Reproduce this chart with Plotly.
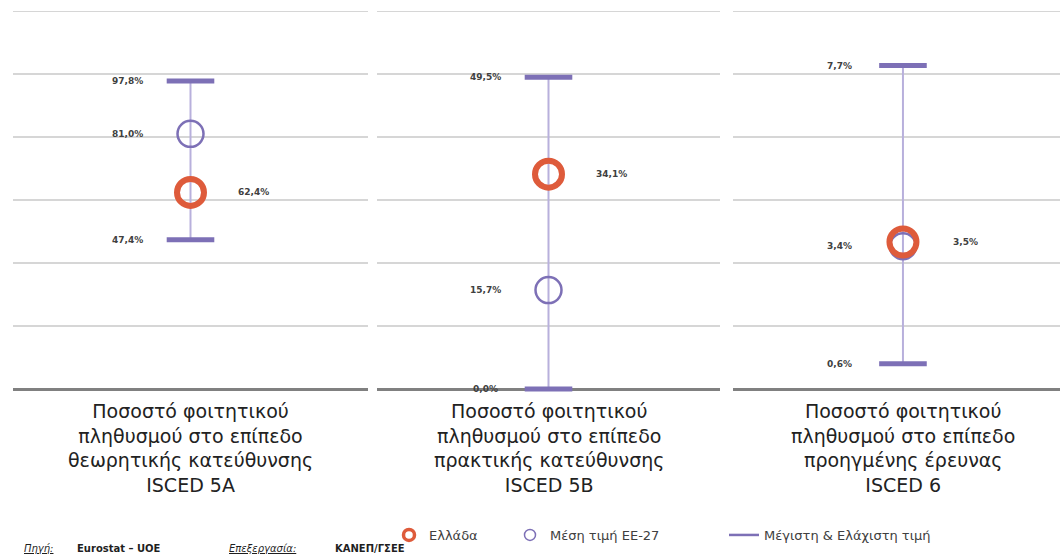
import plotly.graph_objects as go
from plotly.subplots import make_subplots

# Data (percent of student population)
categories = [
    "Ποσοστό φοιτητικού<br>πληθυσμού στο επίπεδο<br>θεωρητικής κατεύθυνσης<br>ISCED 5A",
    "Ποσοστό φοιτητικού<br>πληθυσμού στο επίπεδο<br>πρακτικής κατεύθυνσης<br>ISCED 5B",
    "Ποσοστό φοιτητικού<br>πληθυσμού στο επίπεδο<br>προηγμένης έρευνας<br>ISCED 6",
]
greece = [62.4, 34.1, 3.5]
eu27_mean = [81.0, 15.7, 3.4]
eu_max = [97.8, 49.5, 7.7]
eu_min = [47.4, 0.0, 0.6]
y_max = [120, 60, 9]
y_step = [20, 10, 1.5]

RED = "#de5b3b"
PURPLE = "#7d70b6"
LIGHT_PURPLE = "#b8b0dc"
LABEL = "#404040"
GRID = "#d6d6d6"


def pct(v):
    return f"{v:.1f}".replace(".", ",") + "%"


fig = make_subplots(rows=1, cols=3)

# panel geometry in pixels (width 1060)
domains = [(13, 368), (377, 720), (733, 1060)]
x_ranges = [[-1, 1], [-1, 1], [-1, 0.924]]

for i in range(3):
    col = i + 1
    # min-max whisker
    fig.add_trace(go.Scatter(x=[0, 0], y=[eu_min[i], eu_max[i]], mode="lines",
                             line=dict(color=LIGHT_PURPLE, width=2),
                             showlegend=False, hoverinfo="skip", cliponaxis=False),
                  row=1, col=col)
    # caps
    fig.add_trace(go.Scatter(x=[0, 0], y=[eu_min[i], eu_max[i]], mode="markers",
                             marker=dict(symbol="line-ew", size=34, color=PURPLE,
                                         line=dict(color=PURPLE, width=5)),
                             showlegend=False, cliponaxis=False),
                  row=1, col=col)
    # EU-27 mean
    fig.add_trace(go.Scatter(x=[0], y=[eu27_mean[i]], mode="markers",
                             marker=dict(symbol="circle-open", size=26, color=PURPLE,
                                         line=dict(color=PURPLE, width=2.5)),
                             showlegend=False, cliponaxis=False),
                  row=1, col=col)
    # Greece
    fig.add_trace(go.Scatter(x=[0], y=[greece[i]], mode="markers",
                             marker=dict(symbol="circle-open", size=27, color=RED,
                                         line=dict(color=RED, width=6)),
                             showlegend=False, cliponaxis=False),
                  row=1, col=col)

    xa = "xaxis" if i == 0 else f"xaxis{col}"
    ya = "yaxis" if i == 0 else f"yaxis{col}"
    fig.layout[xa].update(domain=[domains[i][0] / 1060, domains[i][1] / 1060],
                          range=x_ranges[i], visible=False)
    fig.layout[ya].update(range=[0, y_max[i]], dtick=y_step[i], tick0=0,
                          showticklabels=False, showgrid=True,
                          gridcolor=GRID, gridwidth=2,
                          zeroline=True, zerolinecolor="#808080", zerolinewidth=3)

    xref = "x" if i == 0 else f"x{col}"
    yref = "y" if i == 0 else f"y{col}"
    # top gridline (plotly skips the one on the plot edge)
    fig.add_shape(type="line", xref=f"{xref} domain", yref=yref,
                  x0=0, x1=1, y0=y_max[i], y1=y_max[i],
                  line=dict(color=GRID, width=2), layer="below")
    # data labels
    for v, shift in [(eu_max[i], -63), (eu27_mean[i], -63),
                     (eu_min[i], -63), (greece[i], 63)]:
        fig.add_annotation(x=0, y=v, xref=xref, yref=yref, xshift=shift,
                           text=f"<b>{pct(v)}</b>", showarrow=False,
                           font=dict(size=9, color=LABEL, family="DejaVu Sans"))
    # category label
    fig.add_annotation(x=0, y=0, xref=xref, yref="paper", yshift=-9,
                       yanchor="top", text=categories[i], showarrow=False,
                       font=dict(size=19, color="#222222", family="DejaVu Sans"))

# legend entries
fig.add_trace(go.Scatter(x=[None], y=[None], mode="markers", name="Ελλάδα",
                         marker=dict(symbol="circle-open", size=11, color=RED,
                                     line=dict(color=RED, width=3.5)),
                         legend="legend"))
fig.add_trace(go.Scatter(x=[None], y=[None], mode="markers", name="Μέση τιμή ΕΕ-27",
                         marker=dict(symbol="circle-open", size=11, color=PURPLE,
                                     line=dict(color=PURPLE, width=1.5)),
                         legend="legend2"))
fig.add_trace(go.Scatter(x=[None], y=[None], mode="lines",
                         line=dict(color=PURPLE, width=2.5),
                         name="Μέγιστη & Ελάχιστη τιμή", legend="legend3"))

leg_font = dict(size=13, color=LABEL, family="DejaVu Sans")
leg_y = -(535 - 389) / 378
fig.update_layout(
    width=1060, height=554,
    margin=dict(l=0, r=0, t=11, b=165),
    plot_bgcolor="white", paper_bgcolor="white",
    legend=dict(x=389 / 1060, y=leg_y, xanchor="left", yanchor="middle",
                font=leg_font, bgcolor="rgba(0,0,0,0)"),
    legend2=dict(x=510 / 1060, y=leg_y, xanchor="left", yanchor="middle",
                 font=leg_font, bgcolor="rgba(0,0,0,0)"),
    legend3=dict(x=724 / 1060, y=leg_y, xanchor="left", yanchor="middle",
                 font=leg_font, bgcolor="rgba(0,0,0,0)"),
)

# source / processing note
src_y = -(548 - 389) / 378
src_font = dict(size=10, color="#1f1f1f", family="DejaVu Sans")
for xpx, txt in [(22, "<i><u>Πηγή:</u></i>"),
                 (75, "<b>Eurostat – UOE</b>"),
                 (227, "<i><u>Επεξεργασία:</u></i>"),
                 (333, "<b>ΚΑΝΕΠ/ΓΣΕΕ</b>")]:
    fig.add_annotation(x=xpx / 1060, y=src_y, xref="paper", yref="paper",
                       xanchor="left", yanchor="middle", showarrow=False,
                       text=txt, font=src_font)

fig.write_html("out.html", config={"displayModeBar": False},
               post_script="document.body.style.margin='0';")
